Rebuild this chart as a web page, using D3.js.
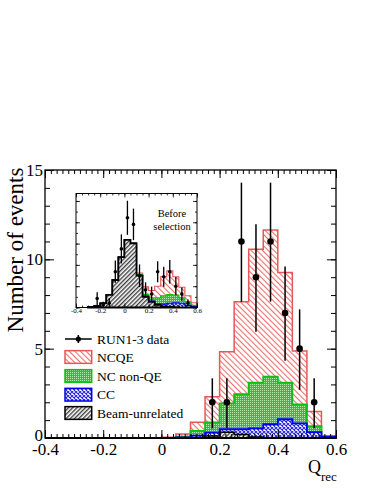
<!DOCTYPE html>
<html><head><meta charset="utf-8">
<script src="https://cdn.jsdelivr.net/npm/d3@7"></script>
<style>body{margin:0;background:#fff}svg{display:block}svg text{font-family:"Liberation Serif","DejaVu Serif",serif !important;fill:#000}</style>
</head><body>
<script>
// ---------- main plot data (stacked tops per bin, bins of 0.05 starting at binLo) ----------
const binLo      = [0.00,0.05,0.10,0.15,0.20,0.25,0.30,0.35,0.40,0.45,0.50,0.55];
const ncqeTop    = [0.04,0.22,0.88,2.31,4.83,7.63,10.56,11.64,9.27,4.87,1.49,0.13];
const nonqeTop   = [0.01,0.07,0.40,0.88,1.94,2.46,3.10,3.43,3.10,1.88,0.67,0.10];
const ccTop      = [0.00,0.03,0.13,0.30,0.49,0.49,0.54,0.77,1.05,0.82,0.33,0.06];
const beamTop    = [0.00,0.00,0.02,0.11,0.32,0.20,0.05,0.02,0.01,0.01,0.00,0.00];
const dataX      = [0.175,0.225,0.275,0.325,0.375,0.425,0.475,0.525];
const dataY      = [2,2,11,9,11,7,5,2];
const dataErrLo  = [1.46,1.46,3.37,3.05,3.37,2.67,2.31,1.46];
const dataErrHi  = [1.34,1.34,3.29,2.97,3.29,2.60,2.20,1.34];
const xMajor     = [-0.4,-0.2,0,0.2,0.4,0.6];
const yMajor     = [0,5,10,15];
const legendLabels = ["RUN1-3 data","NCQE","NC non-QE","CC","Beam-unrelated"];

// ---------- inset data ("Before selection") ----------
const inBinLo    = [-0.30,-0.25,-0.20,-0.15,-0.10,-0.05,0.00,0.05,0.10,0.15,0.20,0.25,0.30,0.35,0.40,0.45,0.50,0.55];
const inNcqeTop  = [0.03,0.07,0.20,0.59,1.29,2.36,3.17,3.05,1.62,0.97,0.80,1.00,1.45,1.72,1.44,0.95,0.55,0.22];
const inNonqeTop = [0.03,0.07,0.20,0.59,1.29,2.36,3.17,3.02,1.55,0.62,0.45,0.45,0.55,0.60,0.58,0.45,0.27,0.10];
const inCcTop    = [0.03,0.07,0.20,0.59,1.29,2.36,3.17,3.01,1.51,0.53,0.30,0.17,0.16,0.20,0.22,0.20,0.10,0.04];
const inBeamTop  = [0.03,0.07,0.20,0.59,1.29,2.36,3.17,3.01,1.50,0.50,0.27,0.12,0.05,0.03,0.02,0.01,0.01,0.00];
const inDataX    = [-0.225,-0.175,-0.125,-0.075,-0.025,0.025,0.075,0.125,0.175,0.225,0.275,0.325,0.375,0.425,0.475,0.525];
const inDataY    = [0.42,0.12,0.20,1.68,2.75,4.21,3.90,1.49,0.83,0.63,1.68,1.44,1.68,1.00,0.63,0.21];
const inDataErr  = [0.30,0.15,0.23,0.52,0.68,0.80,0.74,0.53,0.35,0.35,0.49,0.47,0.55,0.43,0.31,0.16];
const inXMajor   = [-0.4,-0.2,0,0.2,0.4,0.6];
const binW = 0.05;
const SERIF = '"Liberation Serif","DejaVu Serif",serif';

const W = 382, H = 494;
const svg = d3.select("body").append("svg").attr("width", W).attr("height", H)
  .attr("font-family", SERIF);
const defs = svg.append("defs");

function linePattern(id, size, angle, color, width){
  const p = defs.append("pattern").attr("id", id).attr("patternUnits","userSpaceOnUse")
    .attr("width", size).attr("height", size).attr("patternTransform", `rotate(${angle})`);
  p.append("rect").attr("width", size).attr("height", size).attr("fill", "#fff");
  p.append("rect").attr("x", 0).attr("y", 0).attr("width", width).attr("height", size).attr("fill", color);
}
linePattern("pNcqe", 4, -45, "#ee7070", 1.1);
linePattern("pBeam", 3, 45, "#404040", 1.4);
{
  const p = defs.append("pattern").attr("id","pNonqe").attr("patternUnits","userSpaceOnUse").attr("width",2).attr("height",2);
  p.append("rect").attr("width",2).attr("height",2).attr("fill","#30c030");
  p.append("rect").attr("width",1).attr("height",1).attr("fill","#b0ecb0");
}
{
  const p = defs.append("pattern").attr("id","pCc").attr("patternUnits","userSpaceOnUse").attr("width",4).attr("height",4);
  p.append("rect").attr("width",4).attr("height",4).attr("fill","#fff");
  p.append("path").attr("d","M0,0L4,4M4,0L0,4").attr("stroke","#2828e0").attr("stroke-width",1.1);
}

const fmt = d => d === 0 ? "0" : String(+d.toFixed(1));

function stepPath(xs, ys, lo, tops){
  let d = `M${xs(lo[0])},${ys(0)}`;
  lo.forEach((l,i) => { d += `L${xs(l)},${ys(tops[i])}L${xs(l+binW)},${ys(tops[i])}`; });
  d += `L${xs(lo[lo.length-1]+binW)},${ys(0)}Z`;
  return d;
}

function drawHists(g, xs, ys, lo, layers){
  layers.forEach(L => {
    g.append("path").attr("d", stepPath(xs, ys, lo, L.tops))
      .attr("fill", `url(#${L.pat})`).attr("stroke", L.stroke).attr("stroke-width", L.sw)
      .attr("stroke-linejoin","miter");
  });
}

function frameAxes(g, xs, ys, opt){
  const [x0,x1] = xs.range(), [y0,y1] = ys.range();
  g.append("g").attr("transform",`translate(0,${y0})`)
    .call(d3.axisBottom(xs).tickValues(opt.xMinor).tickSize(-opt.xMinLen).tickFormat(""));
  let a = g.append("g").attr("transform",`translate(0,${y0})`)
    .call(d3.axisBottom(xs).tickValues(opt.xMajor).tickSize(-opt.xMajLen).tickPadding(opt.xPad).tickFormat(fmt));
  a.selectAll("text").attr("font-size", opt.fs);
  g.append("g").attr("transform",`translate(0,${y1})`)
    .call(d3.axisTop(xs).tickValues(opt.xMinor).tickSize(-opt.xMinLen).tickFormat(""));
  g.append("g").attr("transform",`translate(0,${y1})`)
    .call(d3.axisTop(xs).tickValues(opt.xMajor).tickSize(-opt.xMajLen).tickFormat(""));
  g.append("g").attr("transform",`translate(${x0},0)`)
    .call(d3.axisLeft(ys).tickValues(opt.yMinor).tickSize(-opt.yMinLen).tickFormat(""));
  a = g.append("g").attr("transform",`translate(${x0},0)`)
    .call(d3.axisLeft(ys).tickValues(opt.yMajor).tickSize(-opt.yMajLen).tickPadding(opt.yPad).tickFormat(opt.yLabels ? fmt : ""));
  a.selectAll("text").attr("font-size", opt.fs);
  if (opt.yLabels) a.selectAll(".tick").filter(d => d === 0).select("text").attr("dy","0.15em");
  g.append("g").attr("transform",`translate(${x1},0)`)
    .call(d3.axisRight(ys).tickValues(opt.yMinor).tickSize(-opt.yMinLen).tickFormat(""));
  g.append("g").attr("transform",`translate(${x1},0)`)
    .call(d3.axisRight(ys).tickValues(opt.yMajor).tickSize(-opt.yMajLen).tickFormat(""));
  g.selectAll(".domain").remove();
  g.selectAll("g").attr("font-family", SERIF).attr("font-size", null);
  g.selectAll(".tick line").attr("stroke","#000").attr("stroke-width", opt.tw);
  g.selectAll(".tick text").attr("fill","#000").attr("font-family", SERIF);
  g.append("rect").attr("x",x0).attr("y",y1).attr("width",x1-x0).attr("height",y0-y1)
    .attr("fill","none").attr("stroke","#000").attr("stroke-width",opt.fw);
}

// ================= MAIN =================
const x = d3.scaleLinear().domain([-0.4,0.6]).range([45,336]);
const y = d3.scaleLinear().domain([0,15]).range([438,170]);
const gm = svg.append("g");

drawHists(gm, x, y, binLo, [
  {tops: ncqeTop,  pat:"pNcqe",  stroke:"#e65858", sw:1.5},
  {tops: nonqeTop, pat:"pNonqe", stroke:"#10c010", sw:1.8},
  {tops: ccTop,    pat:"pCc",    stroke:"#0000f0", sw:1.8},
  {tops: beamTop,  pat:"pBeam",  stroke:"#000",    sw:1.5}
]);

const gd = gm.append("g");
dataX.forEach((dx,i) => {
  gd.append("line").attr("x1",x(dx)).attr("x2",x(dx))
    .attr("y1",y(dataY[i]-dataErrLo[i])).attr("y2",y(dataY[i]+dataErrHi[i]))
    .attr("stroke","#000").attr("stroke-width",1.5);
  gd.append("circle").attr("cx",x(dx)).attr("cy",y(dataY[i])).attr("r",3.3).attr("fill","#000");
});

frameAxes(gm, x, y, {
  xMajor, xMinor: d3.range(-0.4, 0.6001, 0.02).map(v=>+v.toFixed(2)),
  yMajor, yMinor: d3.range(0, 15.001, 1),
  xMajLen: 8, xMinLen: 4, yMajLen: 9, yMinLen: 5,
  xPad: 5, yPad: 2, fs: 17, tw: 1, fw: 1.3, yLabels: true
});
gm.append("line").attr("x1",x(-0.4)).attr("x2",x(0.6)).attr("y1",y(0)).attr("y2",y(0))
  .attr("stroke","#000").attr("stroke-width",2.2);

svg.append("text").attr("transform","translate(23,250) rotate(-90)").attr("text-anchor","middle")
  .attr("font-family", SERIF).attr("font-size",23).text("Number of events");
const xt = svg.append("text").attr("x",308).attr("y",473).attr("font-family", SERIF).attr("font-size",18);
xt.append("tspan").text("Q");
xt.append("tspan").attr("font-size",13).attr("dy",8).text("rec");

// ================= INSET =================
const xi = d3.scaleLinear().domain([-0.4,0.6]).range([76,197]);
const yi = d3.scaleLinear().domain([0,5.35]).range([307.5,193.5]);
const gi = svg.append("g");
gi.append("rect").attr("x",76).attr("y",193.5).attr("width",121).attr("height",114).attr("fill","#fff");
drawHists(gi, xi, yi, inBinLo, [
  {tops: inNcqeTop,  pat:"pNcqe",  stroke:"#e65858", sw:1.1},
  {tops: inNonqeTop, pat:"pNonqe", stroke:"#10c010", sw:1.2},
  {tops: inCcTop,    pat:"pCc",    stroke:"#0000f0", sw:1.2},
  {tops: inBeamTop,  pat:"pBeam",  stroke:"#000",    sw:1.8}
]);
inDataX.forEach((dx,i) => {
  gi.append("line").attr("x1",xi(dx)).attr("x2",xi(dx))
    .attr("y1",yi(Math.max(0,inDataY[i]-inDataErr[i]))).attr("y2",yi(inDataY[i]+inDataErr[i]))
    .attr("stroke","#000").attr("stroke-width",1.3);
  gi.append("circle").attr("cx",xi(dx)).attr("cy",yi(inDataY[i])).attr("r",1.8).attr("fill","#000");
});
frameAxes(gi, xi, yi, {
  xMajor: inXMajor, xMinor: d3.range(-0.4, 0.6001, 0.05).map(v=>+v.toFixed(2)),
  yMajor: d3.range(0, 5.01, 1), yMinor: d3.range(0, 5.01, 0.5),
  xMajLen: 4, xMinLen: 2, yMajLen: 4, yMinLen: 2,
  xPad: 1, yPad: 2, fs: 7, tw: 0.8, fw: 1, yLabels: false
});
gi.append("text").attr("x",172).attr("y",217).attr("text-anchor","middle").attr("font-family", SERIF).attr("font-size",10.5).text("Before");
gi.append("text").attr("x",172).attr("y",230).attr("text-anchor","middle").attr("font-family", SERIF).attr("font-size",10.5).text("selection");

// ================= LEGEND =================
const lg = svg.append("g");
const rowY = [339, 357, 376, 394.7, 413];
const swX = 65, swW = 26.7, swH = 12.7;
lg.append("line").attr("x1",swX).attr("x2",swX+swW).attr("y1",rowY[0]).attr("y2",rowY[0]).attr("stroke","#000").attr("stroke-width",1.5);
lg.append("line").attr("x1",swX+swW/2).attr("x2",swX+swW/2).attr("y1",rowY[0]-4).attr("y2",rowY[0]+4).attr("stroke","#000").attr("stroke-width",1.5);
lg.append("circle").attr("cx",swX+swW/2).attr("cy",rowY[0]).attr("r",2.6).attr("fill","#000");
const legStyles = [
  {pat:"pNcqe", stroke:"#e65858"},
  {pat:"pNonqe", stroke:"#10c010"},
  {pat:"pCc", stroke:"#0000f0"},
  {pat:"pBeam", stroke:"#000"}
];
legStyles.forEach((s,i) => {
  lg.append("rect").attr("x",swX).attr("y",rowY[i+1]-swH/2).attr("width",swW).attr("height",swH)
    .attr("fill",`url(#${s.pat})`).attr("stroke",s.stroke).attr("stroke-width",1.5);
});
legendLabels.forEach((t,i) => {
  lg.append("text").attr("x",97).attr("y",rowY[i]).attr("dy","0.35em").attr("font-family", SERIF)
    .attr("font-size",13.5).text(t);
});
</script>
</body></html>
